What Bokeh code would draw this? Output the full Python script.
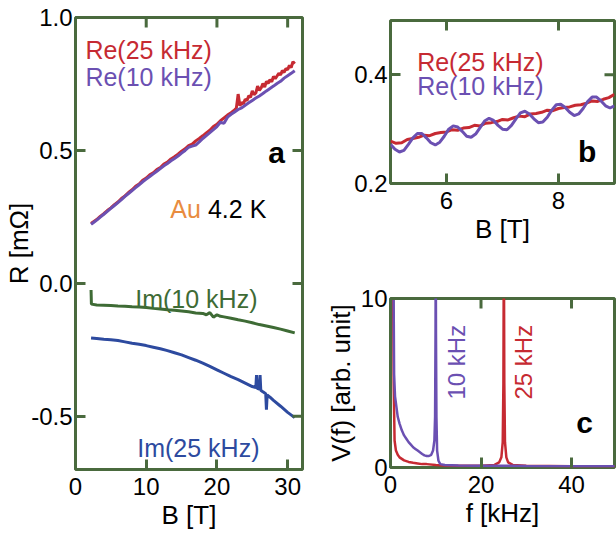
import math
from bokeh.plotting import figure
from bokeh.models import FixedTicker, Label, Range1d
from bokeh.layouts import row, column
from bokeh.embed import file_html
from bokeh.resources import INLINE

# ---------------- data: panel a ----------------
b_re10 = [2.2, 2.5, 3.0, 3.5, 4.0, 4.5, 5.0, 5.5, 6.0, 6.5, 7.0, 7.5, 8.0, 8.5, 9.0, 9.5,
          10.0, 10.5, 11.0, 11.5, 12.0, 12.5, 13.0, 13.5, 14.0, 14.5, 15.0, 15.5, 16.0, 16.5,
          17.0, 17.5, 18.0, 18.5, 19.0, 19.5, 20.0, 20.5, 21.0, 21.5, 22.0, 22.5, 23.0, 23.5,
          24.0, 24.5, 25.0, 25.5, 26.0, 26.5, 27.0, 27.5, 28.0, 28.5, 29.0, 29.5, 30.0, 30.5, 31.0]
re10 = [0.222, 0.228, 0.238, 0.249, 0.260, 0.271, 0.282, 0.293, 0.304, 0.315, 0.327, 0.338,
        0.349, 0.360, 0.371, 0.382, 0.392, 0.402, 0.412, 0.422, 0.432, 0.442, 0.451, 0.461,
        0.470, 0.479, 0.490, 0.500, 0.512, 0.516, 0.520, 0.532, 0.545, 0.556, 0.567, 0.578,
        0.590, 0.606, 0.602, 0.625, 0.636, 0.645, 0.654, 0.660, 0.670, 0.679, 0.688, 0.697,
        0.705, 0.714, 0.724, 0.733, 0.742, 0.752, 0.760, 0.772, 0.781, 0.790, 0.800]

b_re25 = [2.2, 2.5, 3.0, 3.5, 4.0, 4.5, 5.0, 5.5, 6.0, 6.5, 7.0, 7.5, 8.0, 8.5, 9.0, 9.5,
          10.0, 10.5, 11.0, 11.5, 12.0, 12.5, 13.0, 13.5, 14.0, 14.5, 15.0, 15.5, 16.0, 16.5,
          17.0, 17.5, 18.0, 18.5, 19.0, 19.5, 20.0, 20.5, 21.0, 21.5, 22.0,
          22.5, 22.75, 23.0, 23.25, 23.5, 23.75, 24.0, 24.25, 24.5, 24.75, 25.0, 25.25, 25.5,
          25.75, 26.0, 26.25, 26.5, 26.75, 27.0, 27.25, 27.5, 27.75, 28.0, 28.25, 28.5, 28.75,
          29.0, 29.25, 29.5, 29.75, 30.0, 30.25, 30.5, 30.75, 31.0]
re25 = [0.225, 0.231, 0.240, 0.252, 0.262, 0.274, 0.284, 0.296, 0.306, 0.319, 0.329, 0.342,
        0.352, 0.365, 0.374, 0.388, 0.396, 0.408, 0.416, 0.428, 0.436, 0.449, 0.456, 0.468,
        0.476, 0.486, 0.497, 0.506, 0.518, 0.524, 0.536, 0.545, 0.555, 0.566, 0.576, 0.590,
        0.598, 0.612, 0.622, 0.633, 0.642,
        0.652, 0.660, 0.712, 0.668, 0.680, 0.676, 0.692, 0.688, 0.706, 0.700, 0.724, 0.710,
        0.716, 0.742, 0.726, 0.735, 0.752, 0.738, 0.760, 0.752, 0.766, 0.758, 0.778, 0.770,
        0.780, 0.790, 0.784, 0.800, 0.794, 0.808, 0.804, 0.820, 0.812, 0.834, 0.826]

b_im10 = [2.2, 2.25, 3, 4, 5, 6, 7, 8, 9, 10, 11, 12, 13, 14, 15, 16, 17, 18, 18.5, 19.0,
          19.5, 20.0, 20.5, 21, 22, 23, 24, 25, 26, 27, 28, 29, 30, 31]
im10 = [-0.025, -0.078, -0.081, -0.082, -0.083, -0.085, -0.086, -0.088, -0.089, -0.091,
        -0.094, -0.096, -0.099, -0.101, -0.104, -0.107, -0.111, -0.113, -0.118, -0.110,
        -0.127, -0.118, -0.124, -0.126, -0.131, -0.137, -0.142, -0.148, -0.155, -0.160,
        -0.166, -0.172, -0.179, -0.186]

b_im25 = [2.2, 3, 4, 5, 6, 7, 8, 9, 10, 11, 12, 13, 14, 15, 16, 17, 18, 19, 20, 21, 22,
          23, 24, 25, 25.5, 25.6, 25.7, 26.0, 26.1, 26.2, 26.5, 26.9, 27.0, 27.1, 27.5,
          28, 29, 30, 31]
im25 = [-0.205, -0.207, -0.210, -0.212, -0.215, -0.220, -0.225, -0.229, -0.234, -0.240,
        -0.246, -0.253, -0.261, -0.269, -0.279, -0.289, -0.300, -0.312, -0.325, -0.338,
        -0.351, -0.362, -0.375, -0.388, -0.392, -0.345, -0.395, -0.398, -0.345, -0.402,
        -0.408, -0.415, -0.475, -0.420, -0.428, -0.440, -0.462, -0.485, -0.505]

a_xticks = [0, 10, 20, 30]
a_yticks = [-0.5, 0.0, 0.5, 1.0]
a_ylabels = {-0.5: "-0.5", 0.0: "0.0", 0.5: "0.5", 1.0: "1.0"}

# ---------------- data: panel b ----------------
b_zoom25 = [5.0, 5.1, 5.2, 5.3, 5.4, 5.5, 5.6, 5.7, 5.8, 5.9, 6.0, 6.1, 6.2, 6.3, 6.4, 6.5,
            6.6, 6.7, 6.8, 6.9, 7.0, 7.1, 7.2, 7.3, 7.4, 7.5, 7.6, 7.7, 7.8, 7.9, 8.0, 8.1,
            8.2, 8.3, 8.4, 8.5, 8.6, 8.7, 8.8, 8.9, 9.0]
zoom25 = [0.278, 0.274, 0.275, 0.281, 0.283, 0.285, 0.289, 0.288, 0.292, 0.294, 0.295, 0.299,
          0.298, 0.302, 0.303, 0.307, 0.306, 0.311, 0.312, 0.314, 0.318, 0.317, 0.321, 0.324,
          0.323, 0.328, 0.329, 0.331, 0.335, 0.334, 0.338, 0.340, 0.341, 0.344, 0.345, 0.348,
          0.352, 0.351, 0.355, 0.358, 0.364]

b_zoom10 = [5.00, 5.08, 5.16, 5.24, 5.32, 5.40, 5.48, 5.56, 5.64, 5.72, 5.80, 5.88, 5.96,
            6.04, 6.12, 6.20, 6.28, 6.36, 6.44, 6.52, 6.60, 6.68, 6.76, 6.84, 6.92, 7.00,
            7.08, 7.16, 7.24, 7.32, 7.40, 7.48, 7.56, 7.64, 7.72, 7.80, 7.88, 7.96, 8.04,
            8.12, 8.20, 8.28, 8.36, 8.44, 8.52, 8.60, 8.68, 8.76, 8.84, 8.92, 9.00]
zoom10 = [0.272, 0.263, 0.258, 0.261, 0.272, 0.284, 0.292, 0.292, 0.284, 0.275, 0.271, 0.276,
          0.287, 0.300, 0.306, 0.304, 0.296, 0.287, 0.285, 0.291, 0.303, 0.315, 0.320, 0.316,
          0.307, 0.300, 0.299, 0.307, 0.319, 0.330, 0.333, 0.328, 0.319, 0.312, 0.313, 0.322,
          0.335, 0.345, 0.346, 0.340, 0.331, 0.325, 0.328, 0.338, 0.351, 0.359, 0.359, 0.352,
          0.343, 0.339, 0.343]

b_xticks = [6, 8]
b_yticks = [0.2, 0.4]

# ---------------- data: panel c ----------------
f10 = [0.6, 0.8, 1.0, 1.3, 1.6, 2.0, 2.5, 3.0, 3.5, 4.0, 4.5, 5.0, 5.5, 6.0, 6.5, 7.0, 7.5,
       8.0, 8.5, 9.0, 9.4, 9.7, 9.85, 9.95, 10.0, 10.05, 10.15, 10.3, 10.6, 11.0, 12, 15, 20,
       25, 30, 40, 50]
v10 = [14, 5.5, 4.2, 3.6, 3.0, 2.6, 2.2, 1.9, 1.7, 1.5, 1.35, 1.2, 1.1, 1.0, 0.9, 0.8, 0.72,
       0.68, 0.68, 0.75, 1.0, 1.6, 3.0, 8, 14, 8, 3, 1.0, 0.4, 0.2, 0.15, 0.12, 0.1, 0.1,
       0.09, 0.08, 0.08]
f25 = [0.5, 0.7, 0.9, 1.2, 1.6, 2.0, 3.0, 4.0, 5.0, 6.0, 7.0, 8, 10, 12, 15, 20, 23, 24,
       24.5, 24.8, 24.95, 25.05, 25.15, 25.3, 25.6, 26, 27, 30, 40, 50]
v25 = [14, 5, 1.6, 1.0, 0.75, 0.6, 0.42, 0.33, 0.28, 0.24, 0.2, 0.2, 0.15, 0.12, 0.1, 0.1,
       0.15, 0.3, 0.6, 1.5, 5, 14, 5, 1.5, 0.6, 0.3, 0.15, 0.1, 0.08, 0.08]

c_xticks = [0, 20, 40]
c_yticks = [0, 10]

# ---------------- styling ----------------
FONT = "Liberation Sans"
FRAME = "#4a6a3e"
RED = "#c62a32"
PURPLE = "#6b50b2"
GREEN = "#3e6b35"
BLUE = "#2d4a9f"
ORANGE = "#e98c3f"
TICK_FS = "24px"
LAB_FS = "26px"
ANN_FS = "25px"
TICK_PX = 10


def make_fig(xr, yr, fw, fh, left, right, top, bottom):
    p = figure(x_range=Range1d(*xr), y_range=Range1d(*yr), frame_width=fw, frame_height=fh,
               min_border_left=left, min_border_right=right, min_border_top=top,
               min_border_bottom=bottom, output_backend="svg", toolbar_location=None,
               background_fill_color="white", border_fill_color="white")
    p.grid.visible = False
    p.outline_line_color = FRAME
    p.outline_line_width = 3
    p.outline_line_alpha = 1.0
    return p


def style_axis(ax, ticks, overrides=None):
    ax.ticker = FixedTicker(ticks=ticks)
    ax.axis_line_color = None
    ax.major_tick_in = TICK_PX
    ax.major_tick_out = 0
    ax.major_tick_line_color = FRAME
    ax.major_tick_line_width = 3
    ax.minor_tick_line_color = None
    ax.major_label_text_font = FONT
    ax.major_label_text_color = "black"
    ax.major_label_text_font_size = TICK_FS
    ax.axis_label_text_font = FONT
    ax.axis_label_text_font_style = "normal"
    ax.axis_label_text_font_size = LAB_FS
    ax.axis_label_text_color = "black"
    if overrides:
        ax.major_label_overrides = overrides


def frame_ticks(p, xticks, yticks, xr, yr, fw, fh, top=True, right=True):
    # inward ticks on the top and right frame edges, length TICK_PX pixels
    if top:
        dy = TICK_PX * (yr[1] - yr[0]) / fh
        p.segment(x0=xticks, y0=[yr[1]] * len(xticks), x1=xticks,
                  y1=[yr[1] - dy] * len(xticks), line_color=FRAME, line_width=3)
    if right:
        dx = TICK_PX * (xr[1] - xr[0]) / fw
        p.segment(x0=[xr[1]] * len(yticks), y0=yticks, x1=[xr[1] - dx] * len(yticks),
                  y1=yticks, line_color=FRAME, line_width=3)


def label(p, x, y, text, color="black", size=ANN_FS, bold=False, angle=0,
          align="left", baseline="alphabetic"):
    p.add_layout(Label(x=x, y=y, text=text, text_color=color, text_font=FONT,
                       text_font_size=size, text_font_style="bold" if bold else "normal",
                       angle=angle, text_align=align, text_baseline=baseline))


# ---------------- panel a ----------------
a_xr, a_yr = (0, 32.1), (-0.7, 1.0)
pa = make_fig(a_xr, a_yr, 227, 452, 75, 8, 17, 65)
style_axis(pa.below[0], a_xticks)
style_axis(pa.left[0], a_yticks, a_ylabels)
pa.below[0].major_label_standoff = 8
pa.below[0].axis_label_standoff = 2
pa.left[0].major_label_standoff = 3
pa.left[0].axis_label_standoff = -6
pa.below[0].axis_label = "B [T]"
pa.left[0].axis_label = "R [mΩ]"

pa.line(b_re25, re25, line_color=RED, line_width=3)
pa.line(b_re10, re10, line_color=PURPLE, line_width=3)
pa.line(b_im10, im10, line_color=GREEN, line_width=3)
pa.line(b_im25, im25, line_color=BLUE, line_width=3)
frame_ticks(pa, a_xticks, a_yticks, a_xr, a_yr, 227, 452)

label(pa, 1.4, 0.876, "Re(25 kHz)", RED)
label(pa, 1.4, 0.778, "Re(10 kHz)", PURPLE)
label(pa, 28.45, 0.494, "a", bold=True, size="30px", align="center")
label(pa, 13.4, 0.281, "Au", ORANGE)
label(pa, 18.73, 0.281, "4.2 K", "black")
label(pa, 8.45, -0.060, "Im(10 kHz)", GREEN)
label(pa, 8.73, -0.620, "Im(25 kHz)", BLUE)

# ---------------- panel b ----------------
b_xr, b_yr = (5, 9), (0.2, 0.5)
pb = make_fig(b_xr, b_yr, 224, 163, 80, 2, 20, 72)
style_axis(pb.below[0], b_xticks)
style_axis(pb.left[0], b_yticks)
pb.below[0].major_label_standoff = 8
pb.below[0].axis_label_standoff = 2
pb.left[0].major_label_standoff = 3
pb.below[0].axis_label = "B [T]"

pb.line(b_zoom25, zoom25, line_color=RED, line_width=3)
pb.line(b_zoom10, zoom10, line_color=PURPLE, line_width=3)
frame_ticks(pb, b_xticks, b_yticks, b_xr, b_yr, 224, 163)

label(pb, 5.476, 0.4245, "Re(25 kHz)", RED)
label(pb, 5.476, 0.3787, "Re(10 kHz)", PURPLE)
label(pb, 8.51, 0.259, "b", bold=True, size="30px", align="center")
label(pb, 4.107, 0.298, "R [mΩ]", "black", size=LAB_FS, angle=math.pi / 2,
      align="center", baseline="middle")

# ---------------- panel c ----------------
c_xr, c_yr = (0, 49.5), (0, 10)
pc = make_fig(c_xr, c_yr, 224, 169, 80, 2, 43, 67)
style_axis(pc.below[0], c_xticks)
style_axis(pc.left[0], c_yticks)
pc.below[0].major_label_standoff = 8
pc.below[0].axis_label_standoff = 2
pc.left[0].major_label_standoff = 3
pc.left[0].axis_label_standoff = 2
pc.below[0].axis_label = "f [kHz]"
pc.left[0].axis_label = "V(f) [arb. unit]"

pc.line(f25, v25, line_color=RED, line_width=2.5)
pc.line(f10, v10, line_color=PURPLE, line_width=2.5)
frame_ticks(pc, c_xticks, c_yticks, c_xr, c_yr, 224, 169, top=True, right=False)

label(pc, 14.52, 6.23, "10 kHz", PURPLE, size="24px", angle=math.pi / 2,
      align="center", baseline="middle")
label(pc, 29.39, 6.23, "25 kHz", RED, size="24px", angle=math.pi / 2,
      align="center", baseline="middle")
label(pc, 42.9, 2.68, "c", bold=True, size="30px", align="center")

layout = row(pa, column(pb, pc, spacing=0), spacing=0)
open("out.html", "w").write(file_html(layout, INLINE))
